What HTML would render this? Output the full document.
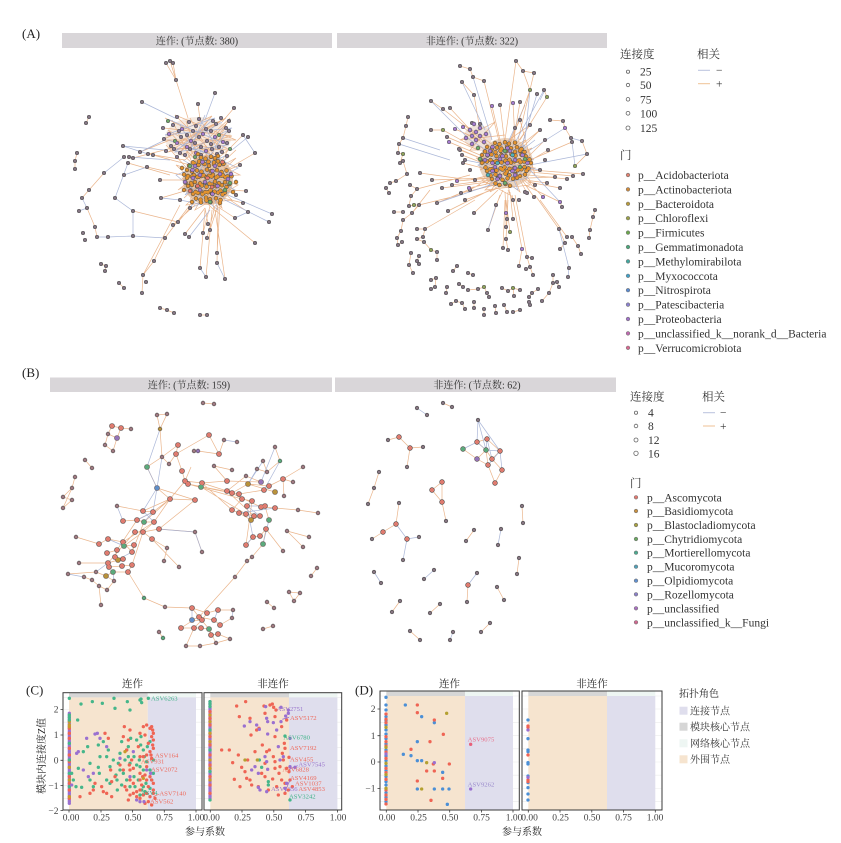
<!DOCTYPE html>
<html><head><meta charset="utf-8">
<style>
html,body{margin:0;padding:0;background:#fff;}
svg{display:block;font-family:"Liberation Serif","Noto Serif CJK SC",serif;}
.eo{fill:none;stroke:#e6a878;stroke-width:.7;opacity:.85}
.eb{fill:none;stroke:#a2afd4;stroke-width:.7;opacity:.9}
.nd{fill:none;stroke-linecap:round}
.t10{font-size:10px;fill:#333}
.lg{font-size:11.5px;fill:#333}
.tk{font-size:9.5px;fill:#444}
.lab{font-size:20px}
</style></head><body>
<svg width="841" height="843" viewBox="0 0 841 843" xmlns="http://www.w3.org/2000/svg">
<defs>
<path id="alp" d="M166 63h0M170 61h0M173 63h0M176 80h0M215 93h0M142 102h0M198 104h0M234 108h0M229 121h0M89 117h0M86 123h0M243 135h0M248 137h0M255 153h0M123 146h0M77 153h0M75 161h0M75 169h0M124 157h0M129 157h0M133 158h0M148 154h0M153 155h0M124 175h0M104 173h0M128 163h0M147 167h0M89 190h0M82 198h0M79 211h0M87 208h0M115 198h0M133 211h0M161 198h0M180 200h0M246 191h0M243 203h0M248 212h0M272 214h0M269 222h0M235 218h0M173 225h0M185 234h0M189 237h0M83 233h0M85 240h0M95 227h0M97 237h0M108 237h0M133 236h0M165 238h0M203 233h0M207 238h0M210 230h0M208 224h0M255 243h0M154 261h0M143 275h0M146 282h0M142 293h0M200 268h0M206 277h0M217 263h0M225 279h0M217 253h0M101 264h0M106 266h0M105 271h0M119 283h0M124 288h0M160 308h0M167 310h0M174 313h0M200 315h0M207 315h0M140 152h0M160 180h0M178 222h0M190 208h0M236 195h0M240 165h0"/>
<path id="alu" d="M168 121h0M177 117h0M189 122h0M199 119h0M213 121h0M221 118h0M163 128h0M173 125h0M182 129h0M196 126h0M206 129h0M216 124h0M226 128h0M169 134h0M179 131h0M187 135h0M193 131h0M203 134h0M211 131h0M219 135h0M229 131h0M164 139h0M175 141h0M181 137h0M191 141h0M199 137h0M207 141h0M215 137h0M223 142h0M171 146h0M177 143h0M187 147h0M195 143h0M201 147h0M211 144h0M219 147h0M227 143h0M166 151h0M174 149h0M180 153h0M190 149h0M196 153h0M206 151h0M212 149h0M222 152h0M230 149h0M177 157h0M185 155h0M195 157h0M201 155h0M211 157h0M217 154h0M227 156h0"/>
<path id="alc" d="M201 157.5h0m4.5 1.2h0m5.5 -2h0m4 1.5h0M193 162.5h0m6 -1h0m4.5 1.8h0m5 -1.5h0m5.5 .5h0m4 -1h0m5 1.5h0M189 165.5h0m5.5 -2h0m4 1.5h0m6 -1h0m4.5 1.8h0m5 -1.5h0m5.5 .5h0m4 -1h0M187 170h0m5 1.5h0m5 -1h0m4.5 1.2h0m5.5 -2h0m4 1.5h0m6 -1h0m4.5 1.8h0m5 -1.5h0M184 174.5h0m4 1.5h0m6 -1h0m4.5 1.8h0m5 -1.5h0m5.5 .5h0m4 -1h0m5 1.5h0m5 -1h0m4.5 1.2h0M187 178h0m5 -1.5h0m5.5 .5h0m4 -1h0m5 1.5h0m5 -1h0m4.5 1.2h0m5.5 -2h0m4 1.5h0m6 -1h0M185.5 182.5h0m5.5 .5h0m4 -1h0m5 1.5h0m5 -1h0m4.5 1.2h0m5.5 -2h0m4 1.5h0m6 -1h0m4.5 1.8h0M188 186h0m4 -1h0m5 1.5h0m5 -1h0m4.5 1.2h0m5.5 -2h0m4 1.5h0m6 -1h0m4.5 1.8h0M190.5 190.5h0m5 1.5h0m5 -1h0m4.5 1.2h0m5.5 -2h0m4 1.5h0m6 -1h0m4.5 1.8h0M193 194h0m5 -1h0m4.5 1.2h0m5.5 -2h0m4 1.5h0m6 -1h0m4.5 1.8h0M196 198.5h0m4.5 1.2h0m5.5 -2h0m4 1.5h0m6 -1h0m4.5 1.8h0M201 202.5h0m5.5 -2h0m4 1.5h0M182 168h0M236 182h0M184 190h0M233 192h0M220 203h0M192 202h0M198 154h0M218 156h0"/>
<path id="alcp" d="M192.5 170h0M212.5 171h0M200 175h0M220 174h0M193 178h0M228 179h0M205 182h0M185 182h0M217.5 186h0M200 190h0M212.5 194h0M195 166h0M215 166h0M202.5 162h0M231 174h0"/>
<path id="alcs" d="M207.5 178h0M212 187h0M197.5 186h0M222.5 162h0M190 191h0"/>
<path id="alcg" d="M225 190h0M190 166h0M210 202h0M230 183h0"/>
<path id="arp" d="M460 66h0M470 69h0M473 77h0M484 81h0M462 82h0M474 95h0M516 61h0M523 71h0M534 73h0M530 90h0M544 90h0M547 97h0M537 94h0M431 101h0M443 109h0M450 108h0M492 106h0M500 105h0M513 103h0M520 102h0M408 117h0M406 126h0M403 138h0M399 144h0M398 153h0M403 154h0M400 163h0M403 161h0M407 174h0M386 188h0M389 193h0M390 183h0M396 181h0M410 185h0M411 196h0M417 189h0M409 206h0M414 205h0M419 205h0M412 213h0M403 212h0M394 212h0M403 220h0M401 231h0M397 238h0M398 245h0M402 242h0M417 229h0M425 229h0M423 237h0M417 239h0M424 242h0M431 250h0M437 252h0M437 260h0M411 253h0M409 265h0M413 273h0M419 256h0M417 261h0M419 264h0M431 130h0M443 130h0M447 137h0M455 129h0M463 127h0M472 123h0M480 124h0M449 142h0M459 149h0M462 155h0M463 163h0M420 173h0M432 180h0M442 188h0M452 185h0M457 181h0M461 193h0M469 188h0M465 200h0M437 203h0M448 211h0M474 213h0M488 230h0M496 205h0M506 213h0M507 219h0M513 219h0M506 227h0M510 232h0M506 239h0M503 248h0M508 250h0M513 200h0M519 200h0M527 193h0M534 197h0M543 197h0M522 249h0M527 257h0M532 258h0M530 267h0M519 266h0M526 269h0M533 275h0M550 120h0M563 121h0M565 128h0M571 138h0M582 141h0M587 154h0M572 142h0M575 166h0M583 174h0M573 176h0M567 179h0M555 177h0M547 183h0M560 202h0M562 207h0M560 188h0M559 229h0M567 237h0M572 237h0M565 243h0M560 249h0M578 246h0M581 254h0M569 268h0M568 277h0M595 210h0M593 217h0M590 230h0M589 238h0M431 280h0M436 278h0M435 287h0M431 289h0M453 271h0M457 266h0M459 284h0M463 287h0M468 273h0M473 275h0M447 287h0M446 293h0M478 289h0M484 287h0M487 293h0M489 297h0M468 290h0M502 288h0M508 291h0M513 288h0M514 296h0M520 290h0M529 297h0M532 293h0M538 289h0M542 301h0M549 293h0M553 283h0M553 275h0M557 282h0M559 287h0M451 304h0M456 301h0M462 303h0M465 309h0M474 302h0M474 308h0M484 309h0M484 315h0M495 306h0M496 313h0M504 305h0M507 312h0M513 312h0M520 310h0M529 302h0M530 305h0M520 120h0M515 128h0M530 125h0M540 130h0M545 140h0M460 150h0M465 160h0M470 170h0M475 180h0M540 170h0M545 160h0M548 150h0M535 185h0M525 192h0M470 190h0"/>
<path id="arc" d="M495 143h0m4.5 1.2h0m5.5 -2h0m4 1.5h0m6 -1h0M487 147h0m5 1.5h0m5 -1h0m4.5 1.2h0m5.5 -2h0m4 1.5h0m6 -1h0m4.5 1.8h0M485 151.5h0m6 -1h0m4.5 1.8h0m5 -1.5h0m5.5 .5h0m4 -1h0m5 1.5h0m5 -1h0m4.5 1.2h0M482 155h0m5.5 .5h0m4 -1h0m5 1.5h0m5 -1h0m4.5 1.2h0m5.5 -2h0m4 1.5h0m6 -1h0m4.5 1.8h0M480.5 159.5h0m4 1.5h0m6 -1h0m4.5 1.8h0m5 -1.5h0m5.5 .5h0m4 -1h0m5 1.5h0m5 -1h0m4.5 1.2h0m5.5 -2h0M482 163h0m5 -1.5h0m5.5 .5h0m4 -1h0m5 1.5h0m5 -1h0m4.5 1.2h0m5.5 -2h0m4 1.5h0m6 -1h0m4.5 1.8h0M485.5 167.5h0m4.5 1.8h0m5 -1.5h0m5.5 .5h0m4 -1h0m5 1.5h0m5 -1h0m4.5 1.2h0m5.5 -2h0m4 1.5h0M487 171h0m5.5 -2h0m4 1.5h0m6 -1h0m4.5 1.8h0m5 -1.5h0m5.5 .5h0m4 -1h0m5 1.5h0M490.5 175.5h0m5 -1h0m4.5 1.2h0m5.5 -2h0m4 1.5h0m6 -1h0m4.5 1.8h0m5 -1.5h0M492 179h0m6 -1h0m4.5 1.8h0m5 -1.5h0m5.5 .5h0m4 -1h0M495.5 183.5h0m4 1.5h0m6 -1h0m4.5 1.8h0"/>
<path id="arcp" d="M492.5 147h0M507.5 148h0M490 151h0M510 151h0M487.5 155h0M502.5 156h0M522.5 155h0M485 160h0M500 159h0M515 160h0M492.5 163h0M507.5 163h0M527.5 163h0M495 167h0M515 168h0M492.5 171h0M512.5 171h0M500 176h0M515 175h0M497.5 179h0M476 132h0M480 136h0M476 140h0M472 136h0M480 128h0M484 142h0M472 144h0M470 130h0M486 134h0M466 138h0M474 124h0"/>
<path id="arcg" d="M505 151h0M480 159h0M520 167h0M505 183h0M525 159h0M478 148h0"/>
<path id="arct" d="M497.5 163h0M512.5 155h0M488 175h0"/>
<path id="blb" d="M143 511h0M153 512h0M137 520h0M144 522h0M154 522h0M123 521h0M143 532h0M159 529h0M135 532h0M152 539h0M108 539h0M123 542h0M124 546h0M134 545h0M132 552h0M107 553h0M117 550h0M115 557h0M123 559h0M118 560h0M108 563h0M109 567h0M122 566h0M132 565h0M128 572h0M113 572h0M106 576h0M99 544h0M170 499h0M195 500h0M202 483h0M201 487h0M227 481h0M227 491h0M232 493h0M239 494h0M248 484h0M261 482h0M269 486h0M264 490h0M275 492h0M283 479h0M242 499h0M252 501h0M247 506h0M232 510h0M239 513h0M246 514h0M254 516h0M260 516h0M251 520h0M261 507h0M265 506h0M275 508h0M269 520h0M266 529h0M260 536h0M253 537h0M263 544h0M246 545h0M192 608h0M199 617h0M207 613h0M214 620h0M218 610h0M192 620h0M194 628h0M201 628h0M209 629h0M211 635h0M218 634h0M181 628h0M220 625h0M202 620h0M157 488h0M147 467h0M185 481h0M188 484h0M182 471h0M176 454h0M178 445h0M219 454h0M209 435h0M117 438h0M112 426h0M121 428h0"/>
<path id="bls" d="M203 403h0M214 404h0M157 415h0M167 414h0M160 429h0M131 429h0M108 434h0M105 445h0M113 451h0M224 440h0M237 442h0M198 451h0M162 457h0M169 464h0M85 460h0M92 468h0M75 477h0M72 488h0M63 497h0M72 500h0M63 508h0M214 466h0M232 470h0M246 476h0M280 461h0M263 461h0M275 447h0M267 472h0M257 469h0M303 467h0M293 482h0M284 496h0M298 510h0M318 513h0M287 531h0M309 537h0M303 547h0M283 551h0M252 557h0M247 561h0M235 577h0M195 532h0M202 552h0M117 506h0M76 537h0M79 563h0M68 574h0M84 577h0M92 580h0M99 586h0M107 590h0M114 581h0M96 572h0M101 605h0M167 548h0M164 561h0M179 567h0M144 598h0M165 607h0M233 610h0M232 618h0M159 632h0M163 638h0M186 646h0M200 646h0M216 643h0M230 639h0M267 602h0M274 608h0M289 592h0M300 593h0M294 601h0M263 629h0M273 626h0M311 576h0M317 568h0M178 445h0M194 451h0M162 457h0"/>
<path id="brb" d="M477 442h0M487 439h0M500 451h0M492 459h0M488 465h0M502 470h0M477 459h0M486 450h0M463 449h0M410 448h0M399 437h0M442 482h0M432 490h0M442 502h0M396 524h0M407 539h0M383 532h0M468 585h0M495 483h0"/>
<path id="brs" d="M417 408h0M427 415h0M443 403h0M452 407h0M478 420h0M388 440h0M423 447h0M407 467h0M379 472h0M374 488h0M368 504h0M446 521h0M522 506h0M523 523h0M474 530h0M466 541h0M501 529h0M498 545h0M399 503h0M372 539h0M419 537h0M403 560h0M519 558h0M517 574h0M374 572h0M381 583h0M434 570h0M424 579h0M477 573h0M467 602h0M497 587h0M504 600h0M400 601h0M392 612h0M440 604h0M430 613h0M410 631h0M420 640h0M453 632h0M450 640h0M490 623h0M481 632h0"/>
</defs>

<!-- ===== Panel A ===== -->
<text x="22" y="38" style="font-size:13px" fill="#222">(A)</text>
<rect x="62" y="33" width="270" height="15" fill="#d9d6d9"/>
<text x="197" y="44.5" text-anchor="middle" class="t10">连作: (节点数: 380)</text>
<rect x="337" y="33" width="270" height="15" fill="#d9d6d9"/>
<text x="472" y="44.5" text-anchor="middle" class="t10">非连作: (节点数: 322)</text>

<!-- A-left network -->
<ellipse cx="198" cy="138" rx="33" ry="21" fill="#e6cbb6" opacity=".4"/>
<ellipse cx="208" cy="180" rx="25" ry="25" fill="#c99463" opacity=".5"/>
<path class="eo" d="M180 152L232 200L186 205L236 158L178 190L228 150L195 210L238 185L176 165L222 208L205 148L214 210L182 178L240 175L190 150L226 196M165 118L230 150L170 148L222 120L180 152L212 116L162 140L236 140L175 115L220 160L168 130L200 165L230 118L185 160M172 120L210 200M190 118L230 190M226 125L190 200M166 145L220 205M236 150L184 198M164 128L232 136L168 152L226 118L178 142L222 150M186 121L198 157M209 119L184 156M228 131L196 160"/>
<path class="eb" d="M183 160L235 190L190 208L228 155L176 175L218 210L200 150L238 168L185 195L225 145M170 120L228 145L175 152L215 118L165 135L232 128L190 150L205 115M180 125L225 200M228 130L186 190M168 140L214 156M222 122L176 150M200 119L218 150"/>
<path class="eo" d="M166 63L176 80L188 118M170 61L176 80M173 63L176 80M198 104L200 120M234 108L222 122M229 121L215 135M255 153L226 170M148 154L185 160M153 155L190 165M147 167L186 176M104 173L89 190L82 198M87 208L95 227L97 237M133 211L178 222M165 238L154 261L143 275L142 293M161 198L188 190M246 191L228 190M243 203L223 198M248 212L230 200M235 218L215 205M173 225L195 205M185 234L205 208M203 233L210 206M207 238L215 206M208 224L205 208M255 243L215 210M200 268L205 210M206 277L212 210M217 263L218 208M225 279L215 210M217 253L220 205M165 238L190 205M143 275L180 205M128 163L170 175M133 158L172 148M160 180L185 180M75 161L77 153M75 169L75 161M89 117L86 123M101 264L106 266L105 271M119 283L124 288M160 308L167 310L174 313M200 315L207 315M243 135L228 150M210 230L218 205M178 222L190 208M236 195L226 190M240 165L228 170M140 152L170 140"/>
<path class="eb" d="M142 102L175 118M215 93L205 120M243 135L255 153M248 137L232 150M123 146L165 150M124 157L104 173M129 157L170 160M115 198L133 211M128 163L115 198M133 211L133 236M97 237L108 237L133 236L165 238M79 211L87 208M82 198L87 208M272 214L228 195M269 222L225 200M189 237L210 210M235 218L248 212M124 175L147 167M180 200L200 204M140 152L165 140M200 268L206 277M217 263L225 279M123 146L148 154M161 198L180 200"/>
<use href="#alp" class="nd" stroke="#4a4a4a" stroke-width="4"/>
<use href="#alp" class="nd" stroke="#857684" stroke-width="2.9"/>
<use href="#alu" class="nd" stroke="#4a4a4a" stroke-width="4"/>
<use href="#alu" class="nd" stroke="#897a93" stroke-width="2.9"/>
<path class="nd" stroke="#a57bcf" stroke-width="2.9" d="M182 129h0M203 134h0M191 141h0M215 137h0M177 143h0M206 151h0M169 134h0M223 142h0M196 153h0M187 147h0"/>
<path class="nd" stroke="#6fa86a" stroke-width="2.9" d="M168 121h0M175 141h0M219 135h0M230 149h0M195 157h0"/>
<use href="#alc" class="nd" stroke="#4a4a4a" stroke-width="4.4"/>
<use href="#alc" class="nd" stroke="#e3922f" stroke-width="3.3"/>
<use href="#alcp" class="nd" stroke="#4a4a4a" stroke-width="4.4"/>
<use href="#alcp" class="nd" stroke="#a57bcf" stroke-width="3.3"/>
<use href="#alcs" class="nd" stroke="#4a4a4a" stroke-width="4.4"/>
<use href="#alcs" class="nd" stroke="#e5776a" stroke-width="3.3"/>
<use href="#alcg" class="nd" stroke="#4a4a4a" stroke-width="4.4"/>
<use href="#alcg" class="nd" stroke="#6fae6a" stroke-width="3.3"/>

<!-- A-right network -->
<ellipse cx="506" cy="163" rx="27" ry="25" fill="#c99463" opacity=".4"/>
<ellipse cx="478" cy="137" rx="14" ry="12" fill="#d9b8a6" opacity=".4"/>
<path class="eo" d="M478 145L530 185L485 190L532 148L480 170L525 140L490 192L535 168L476 158L520 192L500 140L510 195L482 180L528 160M465 125L500 150L470 150L495 122L460 140L505 135M470 130L530 180M540 130L485 185M515 128L495 185M530 125L480 160M520 120L535 175"/>
<path class="eb" d="M482 150L528 178L488 186L525 145L478 165L518 190L498 142L534 160M470 140L520 170M535 140L490 175M525 105L500 160"/>
<path class="eo" d="M460 66L470 69L473 77L484 81L495 125M462 82L474 95L480 130M516 61L523 71L534 73M523 71L530 90L510 145M544 90L547 97L520 140M492 106L500 140M500 105L505 145M513 103L515 140M520 102L512 150M431 101L443 109L470 130M450 108L475 135M431 130L443 130L470 145M447 137L478 150M455 129L480 140M463 127L485 145M449 142L480 155M459 149L485 160M462 155L488 165M463 163L490 170M420 173L470 180L490 175M432 180L485 178M442 188L488 182M452 185L490 180M457 181L492 178M461 193L495 185M469 188L496 182M465 200L497 188M437 203L480 185M448 211L490 190M474 213L498 190M488 230L500 195M496 205L503 190M506 213L505 192M507 219L508 192M513 219L510 192M506 227L506 200L510 232M506 239L508 200M503 248L505 200M508 250L506 239M522 249L512 195M527 257L515 195M532 258L527 257M530 267L527 257M519 266L522 249M533 275L530 267M513 200L508 190M527 193L520 180M534 197L522 180M543 197L525 178M550 120L563 121L565 128L571 138M582 141L587 154L575 166M572 142L530 160M583 174L532 170M573 176L530 172M567 179L528 175M555 177L528 178M547 183L525 180M560 202L525 185M562 207L560 202M560 188L528 182M559 229L535 195M567 237L540 200M565 243L559 229M560 249L565 243M578 246L572 237M581 254L578 246M408 117L406 126L403 138L399 144L398 153L403 154L400 163L403 161L407 174M386 188L389 193M390 183L396 181L407 174M410 185L417 189L411 196L409 206L414 205L419 205L412 213L403 220L401 231L397 238L398 245L402 242M403 212L394 212M417 229L425 229L423 237L417 239L424 242L431 250L437 252L437 260M411 253L409 265L413 273M419 256L417 261L419 264M417 189L470 175M419 205L460 195M412 213L430 190M425 229L475 200M431 280L436 278L435 287L431 289M453 271L457 266M459 284L463 287M468 273L473 275M447 287L446 293M478 289L484 287L487 293L489 297M468 290L478 289M502 288L508 291L513 288M514 296L513 288L520 290M529 297L532 293L538 289M542 301L549 293L553 283L553 275M557 282L559 287M451 304L456 301L462 303L465 309M474 302L474 308M484 309L484 315M495 306L496 313M504 305L507 312M513 312L520 310M529 302L530 305M589 238L590 230L593 217L595 210M520 120L505 150M530 125L512 150M545 140L525 160M548 150L528 162M460 150L485 160M470 190L490 178M535 185L520 175M534 73L518 140M516 61L505 140M484 81L500 145M540 130L515 150"/>
<path class="eb" d="M462 82L485 130M431 101L470 140M530 90L525 140M537 94L522 145M565 128L530 150M571 138L582 141M572 142L575 166M587 154L530 165M560 202L530 170M569 268L568 277M559 229L569 268M403 138L440 150M399 144L450 160M437 203L490 185M488 230L496 205M545 90L540 100M540 170L515 165M465 160L490 165M544 90L512 148M473 77L492 140"/>
<use href="#arp" class="nd" stroke="#4a4a4a" stroke-width="4"/>
<use href="#arp" class="nd" stroke="#857684" stroke-width="2.9"/>
<path class="nd" stroke="#8fa45a" stroke-width="2.9" d="M530 90h0M547 97h0M443 130h0M403 154h0M414 205h0M431 250h0M510 232h0M575 166h0M513 288h0M484 287h0"/>
<path class="nd" stroke="#a57bcf" stroke-width="2.9" d="M492 106h0M513 103h0M455 129h0M463 127h0M449 142h0M457 181h0M469 188h0M506 213h0M522 249h0M565 128h0M560 202h0M543 197h0"/>
<use href="#arc" class="nd" stroke="#4a4a4a" stroke-width="4.4"/>
<use href="#arc" class="nd" stroke="#e3922f" stroke-width="3.3"/>
<use href="#arcp" class="nd" stroke="#4a4a4a" stroke-width="4.4"/>
<use href="#arcp" class="nd" stroke="#a57bcf" stroke-width="3.3"/>
<use href="#arcg" class="nd" stroke="#4a4a4a" stroke-width="4.4"/>
<use href="#arcg" class="nd" stroke="#6fae6a" stroke-width="3.3"/>
<use href="#arct" class="nd" stroke="#4a4a4a" stroke-width="4.4"/>
<use href="#arct" class="nd" stroke="#4fb0b8" stroke-width="3.3"/>

<!-- Legend A -->
<text x="620" y="58" class="lg">连接度</text>
<g fill="#fff" stroke="#666" stroke-width=".8">
<circle cx="628" cy="71.7" r="1.6"/><circle cx="628" cy="85" r="1.7"/><circle cx="628" cy="99.3" r="1.8"/><circle cx="628" cy="113.3" r="1.9"/><circle cx="628" cy="128" r="2"/>
</g>
<text x="640" y="75.7" class="lg">25</text>
<text x="640" y="89" class="lg">50</text>
<text x="640" y="103.3" class="lg">75</text>
<text x="640" y="117.3" class="lg">100</text>
<text x="640" y="132" class="lg">125</text>
<text x="697" y="58" class="lg">相关</text>
<line x1="698" y1="70.3" x2="710" y2="70.3" stroke="#b9c1de" stroke-width="1"/>
<line x1="698" y1="83.7" x2="710" y2="83.7" stroke="#efc295" stroke-width="1"/>
<text x="716" y="74" class="lg">−</text>
<text x="716" y="87.5" class="lg">+</text>
<text x="620" y="159" class="lg">门</text>
<g stroke="#777" stroke-width=".6">
<circle cx="628" cy="175" r="1.8" fill="#e0806f"/>
<circle cx="628" cy="189.4" r="1.8" fill="#d08a3a"/>
<circle cx="628" cy="203.8" r="1.8" fill="#b89a3a"/>
<circle cx="628" cy="218.2" r="1.8" fill="#9aa048"/>
<circle cx="628" cy="232.6" r="1.8" fill="#6aa84a"/>
<circle cx="628" cy="247" r="1.8" fill="#4aa87a"/>
<circle cx="628" cy="261.4" r="1.8" fill="#40a8a0"/>
<circle cx="628" cy="275.8" r="1.8" fill="#40a0c8"/>
<circle cx="628" cy="290.2" r="1.8" fill="#5a8ad0"/>
<circle cx="628" cy="304.6" r="1.8" fill="#8a80d0"/>
<circle cx="628" cy="319" r="1.8" fill="#a070c8"/>
<circle cx="628" cy="333.4" r="1.8" fill="#c068b0"/>
<circle cx="628" cy="347.8" r="1.8" fill="#d86890"/>
</g>
<g class="lg">
<text x="638" y="179">p__Acidobacteriota</text>
<text x="638" y="193.4">p__Actinobacteriota</text>
<text x="638" y="207.8">p__Bacteroidota</text>
<text x="638" y="222.2">p__Chloroflexi</text>
<text x="638" y="236.6">p__Firmicutes</text>
<text x="638" y="251">p__Gemmatimonadota</text>
<text x="638" y="265.4">p__Methylomirabilota</text>
<text x="638" y="279.8">p__Myxococcota</text>
<text x="638" y="294.2">p__Nitrospirota</text>
<text x="638" y="308.6">p__Patescibacteria</text>
<text x="638" y="323">p__Proteobacteria</text>
<text x="638" y="337.4">p__unclassified_k__norank_d__Bacteria</text>
<text x="638" y="351.8">p__Verrucomicrobiota</text>
</g>

<!-- ===== Panel B ===== -->
<text x="22" y="377" style="font-size:13px" fill="#222">(B)</text>
<rect x="50" y="377.5" width="282" height="14.5" fill="#d9d6d9"/>
<text x="189" y="388.3" text-anchor="middle" class="t10">连作: (节点数: 159)</text>
<rect x="335" y="377.5" width="281" height="14.5" fill="#d9d6d9"/>
<text x="477" y="388.3" text-anchor="middle" class="t10">非连作: (节点数: 62)</text>

<path class="eo" d="M203 403L214 404M157 415L167 414L160 429L157 415M160 429L162 457M112 426L121 428L131 429M112 426L108 434L117 438L121 428M108 434L105 445L113 451L117 438M85 460L92 468M75 477L72 488L63 497L72 500L63 508L72 488M209 435L219 454L224 440M178 445L176 454L169 464L162 457M198 451L219 454M162 457L147 467L157 488M176 454L182 471L185 481L170 499M191 467L185 481M214 466L227 481L202 483L185 481M214 466L232 470M227 481L261 482M227 491L246 476L261 482M232 493L248 484L269 486M239 494L264 490M202 483L227 491M201 487L232 493M188 484L239 494M170 499L195 500M170 499L157 488M170 499L143 511M170 499L153 512M170 499L154 522M170 499L144 522M195 500L157 488M283 479L293 482M269 486L283 479L284 496M303 467L283 479M275 447L280 461L267 472M263 461L267 472L257 469M261 507L275 508L298 510L318 513M265 506L269 520M247 506L252 501L242 499L232 510L239 513L246 514L254 516L260 516L251 520L239 513M232 510L202 483M246 514L201 487M254 516L227 491M242 499L188 484M266 529L260 536L253 537L246 545M263 544L266 529M287 531L309 537M287 531L303 547M283 551L266 529M252 557L247 561L235 577L199 617M252 557L263 544M195 532L202 552M195 532L159 529M117 506L143 511L153 512L137 520L144 522L154 522L143 532L159 529M123 521L137 520M135 532L143 532L152 539L167 548L164 561M152 539L179 567M76 537L99 544L108 539L123 542L124 546L134 545L132 552L123 542M107 553L117 550L115 557L123 559L118 560L108 563M79 563L108 563L109 567L122 566L132 565L128 572L113 572L106 576L96 572L68 574M84 577L92 580L99 586L107 590L114 581L106 576M101 605L99 586M124 546L143 532M132 552L144 522M117 550L137 520M108 563L135 532M123 542L154 522M132 565L143 532M128 572L144 598L165 607L192 608L207 613L218 610L233 610M192 620L199 617L214 620L220 625L232 618M181 628L194 628L201 628L209 629L211 635L218 634M192 608L199 617L209 629M202 620L192 621L181 628M159 632L163 638M186 646L200 646L216 643L230 639M209 629L216 643M207 613L202 620L194 628L186 646M218 634L230 639M267 602L274 608M289 592L300 593L294 601L289 592M263 629L273 626M311 576L317 568M176 454L209 435M178 445L162 457M159 529L195 500M261 507L227 491M246 545L252 501M248 484L275 492"/>
<path class="eb" d="M162 457L157 488L147 467M157 488L143 511M157 488L153 512L144 522M143 511L154 522M137 520L153 512M237 442L224 440M261 482L275 447M263 461L248 484M280 461L264 490M257 469L248 484M246 506L265 506L261 507M247 506L260 516M202 552L195 532L157 529M246 545L253 537L247 506M68 574L84 577M96 572L108 563M113 572L114 581M192 608L192 620M214 620L218 610M232 618L233 610M117 506L123 521M147 467L160 429M124 546L108 539M132 552L117 560M263 544L269 520M239 513L275 508"/>
<use href="#bls" class="nd" stroke="#4a4a4a" stroke-width="4.4"/>
<use href="#bls" class="nd" stroke="#a07a82" stroke-width="3.3"/>
<use href="#blb" class="nd" stroke="#4a4a4a" stroke-width="5.6"/>
<use href="#blb" class="nd" stroke="#df7b6f" stroke-width="4.5"/>
<path class="nd" stroke="#5aaa7c" stroke-width="4.5" d="M147 467h0M144 522h0M124 546h0M113 572h0M201 487h0M269 520h0M263 544h0M209 629h0"/>
<path class="nd" stroke="#5aaa7c" stroke-width="3.3" d="M280 461h0M163 638h0M144 598h0"/>
<path class="nd" stroke="#5e8ec8" stroke-width="4.5" d="M157 488h0M192 620h0"/>
<path class="nd" stroke="#b8923a" stroke-width="4.5" d="M118 560h0M106 576h0M248 484h0M275 492h0M251 520h0"/>
<path class="nd" stroke="#b8923a" stroke-width="3.3" d="M160 429h0"/>
<path class="nd" stroke="#9474b8" stroke-width="4.5" d="M117 438h0M261 482h0"/>
<path class="nd" stroke="#9474b8" stroke-width="3.3" d="M198 451h0"/>

<path class="eo" d="M443 403L452 407M388 440L399 437L410 448L423 447M410 448L407 467M379 472L374 488L368 504M442 482L432 490L442 502L446 521M442 482L442 502M474 530L466 541M399 503L396 524L383 532L372 539M519 558L517 574M400 601L392 612M440 604L430 613M467 602L468 585M497 587L504 600M410 631L420 640M490 623L481 632M522 506L523 523M463 449L477 459L488 465L495 483L502 470L492 459L486 450M477 442L487 439L500 451L492 459M477 442L486 450L488 465M477 459L486 450"/>
<path class="eb" d="M417 408L427 415M478 420L477 442M478 420L486 450M463 449L477 442L486 450L500 451L502 470M487 439L492 459M500 451L488 465M396 524L407 539L419 537M407 539L403 560M501 529L498 545M374 572L381 583M434 570L424 579M477 573L468 585M453 632L450 640M487 439L486 450M478 420L500 451"/>
<use href="#brs" class="nd" stroke="#4a4a4a" stroke-width="4.2"/>
<use href="#brs" class="nd" stroke="#877682" stroke-width="3.1"/>
<use href="#brb" class="nd" stroke="#4a4a4a" stroke-width="5.4"/>
<use href="#brb" class="nd" stroke="#df7b6f" stroke-width="4.3"/>
<path class="nd" stroke="#5aaa7c" stroke-width="4.3" d="M486 450h0M463 449h0"/>
<path class="nd" stroke="#9474b8" stroke-width="4.3" d="M477 459h0"/>

<!-- Legend B -->
<text x="630" y="400.5" class="lg">连接度</text>
<g fill="#fff" stroke="#666" stroke-width=".8">
<circle cx="636" cy="412.7" r="1.6"/><circle cx="636" cy="426" r="1.8"/><circle cx="636" cy="440" r="2"/><circle cx="636" cy="453.3" r="2.2"/>
</g>
<text x="648" y="416.7" class="lg">4</text>
<text x="648" y="430" class="lg">8</text>
<text x="648" y="444" class="lg">12</text>
<text x="648" y="457.3" class="lg">16</text>
<text x="702" y="400.5" class="lg">相关</text>
<line x1="703" y1="412.7" x2="715" y2="412.7" stroke="#b9c1de" stroke-width="1"/>
<line x1="703" y1="426" x2="715" y2="426" stroke="#efc295" stroke-width="1"/>
<text x="720" y="416.5" class="lg">−</text>
<text x="720" y="430" class="lg">+</text>
<text x="630" y="487" class="lg">门</text>
<g stroke="#777" stroke-width=".6">
<circle cx="636" cy="497.3" r="1.8" fill="#e07870"/>
<circle cx="636" cy="511" r="1.8" fill="#c89040"/>
<circle cx="636" cy="525" r="1.8" fill="#a8a040"/>
<circle cx="636" cy="539" r="1.8" fill="#6aa860"/>
<circle cx="636" cy="552.7" r="1.8" fill="#4aaa90"/>
<circle cx="636" cy="566.7" r="1.8" fill="#50a0b8"/>
<circle cx="636" cy="580.7" r="1.8" fill="#6090d0"/>
<circle cx="636" cy="594.3" r="1.8" fill="#8a80c8"/>
<circle cx="636" cy="608.3" r="1.8" fill="#a870c0"/>
<circle cx="636" cy="622.3" r="1.8" fill="#d06890"/>
</g>
<g class="lg">
<text x="647" y="501.3">p__Ascomycota</text>
<text x="647" y="515">p__Basidiomycota</text>
<text x="647" y="529">p__Blastocladiomycota</text>
<text x="647" y="543">p__Chytridiomycota</text>
<text x="647" y="556.7">p__Mortierellomycota</text>
<text x="647" y="570.7">p__Mucoromycota</text>
<text x="647" y="584.7">p__Olpidiomycota</text>
<text x="647" y="598.3">p__Rozellomycota</text>
<text x="647" y="612.3">p__unclassified</text>
<text x="647" y="626.3">p__unclassified_k__Fungi</text>
</g>

<!-- ===== Panel C ===== -->
<text x="26" y="694.5" style="font-size:13px" fill="#222">(C)</text>
<text x="132.5" y="687" text-anchor="middle" style="font-size:10.5px" fill="#222">连作</text>
<text x="273" y="687" text-anchor="middle" style="font-size:10.5px" fill="#222">非连作</text>
<text transform="translate(45 756) rotate(-90)" text-anchor="middle" style="font-size:10px" fill="#222">模块内连接度Z值</text>
<text x="205" y="835" text-anchor="middle" style="font-size:10px" fill="#222">参与系数</text>

<g stroke="#ebebeb" stroke-width=".6">
<path d="M63 697.3H202M63 709.5H202M63 722.2H202M63 735H202M63 747.6H202M63 760.3H202M63 773H202M63 785.6H202M63 798.3H202"/>
<path d="M204 697.3H341.7M204 709.5H341.7M204 722.2H341.7M204 735H341.7M204 747.6H341.7M204 760.3H341.7M204 773H341.7M204 785.6H341.7M204 798.3H341.7"/>
</g>
<rect x="69" y="697.3" width="78.8" height="112.7" fill="#f6e4cf"/>
<rect x="147.8" y="697.3" width="48.2" height="112.7" fill="#dfdeed"/>
<rect x="69" y="692.7" width="78.8" height="4.6" fill="#d6d6d6"/>
<rect x="147.8" y="692.7" width="48.2" height="4.6" fill="#eef6f3"/>
<rect x="210.3" y="697.3" width="78.7" height="112.7" fill="#f6e4cf"/>
<rect x="289" y="697.3" width="48.4" height="112.7" fill="#dfdeed"/>
<rect x="210.3" y="692.7" width="78.7" height="4.6" fill="#d6d6d6"/>
<rect x="289" y="692.7" width="48.4" height="4.6" fill="#eef6f3"/>

<g transform="translate(40 680) scale(.33333)">
<path class="nd" stroke="#9a70d0" stroke-width="10" d="M88 100h0m0 5h0m0 5h0m0 5h0m0 5h0m0 5h0m0 5h0m0 5h0m0 5h0m0 5h0m0 5h0m0 5h0m0 5h0m0 5h0m0 5h0m0 5h0m0 5h0m0 5h0m0 5h0m0 5h0m0 5h0m0 5h0m0 5h0m0 5h0m0 5h0m0 5h0m0 5h0m0 5h0m0 5h0m0 5h0m0 5h0m0 5h0m0 5h0m0 5h0m0 5h0m0 5h0m0 5h0m0 5h0m0 5h0m0 5h0m0 5h0m0 5h0m0 5h0m0 5h0m0 5h0m0 5h0m0 5h0m0 5h0m0 5h0m0 5h0m0 5h0m0 5h0m0 5h0m0 5h0m0 5h0"/>
<path class="nd" stroke="#ef6454" stroke-width="10" d="M88 145h0M88 160h0M88 175h0M88 205h0M88 225h0M88 245h0M88 290h0M88 310h0M88 330h0M88 355h0"/>
<path class="nd" stroke="#c99a2a" stroke-width="10" d="M88 125h0M88 135h0M88 140h0M88 262h0M88 300h0M88 350h0"/>
<path class="nd" stroke="#45b68a" stroke-width="10" d="M88 55h0M88 105h0M88 112h0M88 120h0M88 190h0M88 240h0M88 280h0M88 320h0"/>
<path class="nd" stroke="#45b68a" stroke-width="10" d="M123 72h0M157 65h0M187 70h0M222 55h0M225 85h0M262 65h0M270 90h0M300 60h0M303 57h0M305 68h0M303 170h0M113 120h0M143 200h0M130 215h0M175 195h0M190 185h0M115 265h0M175 262h0M178 280h0M210 260h0M235 250h0M245 185h0M260 210h0M265 230h0M250 280h0M228 285h0M231 300h0M265 200h0M282 230h0M298 240h0M300 260h0M270 250h0M272 175h0M290 180h0M302 195h0M310 210h0M313 230h0M320 245h0M282 290h0M295 300h0M260 300h0M245 315h0M210 310h0M200 300h0M160 320h0M150 300h0M100 300h0M108 320h0M125 322h0M232 330h0M285 320h0M305 330h0M310 320h0M330 325h0M318 310h0M340 280h0M335 300h0M322 200h0M330 185h0M340 240h0M330 270h0M255 240h0M240 220h0M200 230h0M95 280h0M310 270h0M290 255h0M325 55h0M240 270h0M220 240h0M205 210h0M180 230h0M150 250h0M270 320h0M300 345h0M315 335h0"/>
<path class="nd" stroke="#ef6454" stroke-width="10" d="M253 140h0M270 150h0M300 160h0M310 140h0M315 165h0M320 135h0M330 145h0M335 140h0M338 150h0M340 160h0M335 170h0M340 180h0M325 190h0M338 195h0M340 205h0M330 215h0M333 225h0M335 235h0M320 225h0M310 230h0M295 200h0M300 230h0M275 240h0M268 255h0M280 265h0M270 270h0M300 280h0M315 285h0M320 260h0M330 290h0M335 300h0M340 310h0M320 300h0M305 315h0M300 330h0M290 335h0M280 340h0M270 345h0M265 360h0M290 350h0M300 355h0M310 345h0M320 340h0M330 350h0M340 340h0M315 370h0M325 365h0M335 375h0M200 340h0M215 350h0M185 320h0M190 335h0M165 310h0M120 350h0M150 340h0M160 330h0M270 300h0M280 310h0M255 320h0M260 330h0M250 270h0M240 255h0M225 290h0M215 305h0M212 270h0M205 175h0M195 160h0M250 170h0M265 180h0M260 210h0M300 300h0M308 290h0M325 320h0M340 330h0M345 355h0"/>
<path class="nd" stroke="#9a70d0" stroke-width="10" d="M140 175h0M165 162h0M172 160h0M180 175h0M200 200h0M115 215h0M110 220h0M130 270h0M145 290h0M160 280h0M95 315h0M240 235h0M280 215h0M320 270h0M332 280h0M270 290h0M290 360h0M300 365h0M312 365h0"/>
<path class="nd" stroke="#c99a2a" stroke-width="10" d="M255 215h0M310 295h0"/>
<g class="lab">
<text x="333" y="62" fill="#3fb387">ASV6263</text>
<text x="345" y="232" fill="#ee6a5c">ASV164</text>
<text x="303" y="250" fill="#ee6a5c">ASV931</text>
<text x="333" y="275" fill="#ee6a5c">ASV2072</text>
<text x="303" y="345" fill="#3fb387">ASV4</text>
<text x="358" y="347" fill="#ee6a5c">ASV7140</text>
<text x="330" y="370" fill="#ee6a5c">ASV562</text>
</g>
<path d="M340 350L358 342" stroke="#ee6a5c" stroke-width="2" fill="none"/>
</g>

<g transform="translate(195 680) scale(.33333)">
<path class="nd" stroke="#9a70d0" stroke-width="10" d="M45 65h0m0 5h0m0 5h0m0 5h0m0 5h0m0 5h0m0 5h0m0 5h0m0 5h0m0 5h0m0 5h0m0 5h0m0 5h0m0 5h0m0 5h0m0 5h0m0 5h0m0 5h0m0 5h0m0 5h0m0 5h0m0 5h0m0 5h0m0 5h0m0 5h0m0 5h0m0 5h0m0 5h0m0 5h0m0 5h0m0 5h0m0 5h0m0 5h0m0 5h0m0 5h0m0 5h0m0 5h0m0 5h0m0 5h0m0 5h0m0 5h0m0 5h0m0 5h0m0 5h0m0 5h0m0 5h0m0 5h0m0 5h0m0 5h0m0 5h0m0 5h0m0 5h0m0 5h0m0 5h0m0 5h0m0 5h0m0 5h0m0 5h0m0 5h0"/>
<path class="nd" stroke="#45b68a" stroke-width="10" d="M45 65h0M45 72h0M45 80h0M45 150h0M45 210h0M45 275h0M45 360h0"/>
<path class="nd" stroke="#ef6454" stroke-width="10" d="M45 95h0M45 115h0M45 135h0M45 170h0M45 195h0M45 225h0M45 255h0M45 290h0M45 315h0M45 340h0"/>
<path class="nd" stroke="#c99a2a" stroke-width="10" d="M45 105h0M45 125h0M45 160h0M45 185h0M45 240h0M45 265h0M45 300h0"/>
<path class="nd" stroke="#ef6454" stroke-width="10" d="M125 78h0M152 65h0M207 78h0M225 75h0M232 72h0M236 82h0M243 90h0M210 100h0M133 110h0M240 110h0M165 115h0M275 120h0M260 140h0M185 150h0M192 145h0M168 165h0M240 170h0M268 190h0M202 195h0M223 210h0M270 205h0M262 220h0M80 210h0M103 210h0M113 248h0M130 225h0M180 215h0M215 215h0M235 230h0M265 240h0M282 232h0M240 245h0M210 250h0M255 260h0M275 265h0M282 275h0M158 240h0M140 262h0M118 298h0M150 275h0M155 295h0M165 300h0M200 280h0M210 290h0M240 265h0M252 280h0M260 300h0M270 310h0M285 300h0M233 297h0M245 320h0M220 330h0M190 320h0M170 315h0M135 320h0M250 345h0M270 340h0M280 330h0M292 320h0"/>
<path class="nd" stroke="#9a70d0" stroke-width="10" d="M212 80h0M215 115h0M218 125h0M235 128h0M258 82h0M280 90h0M272 108h0M280 100h0M185 135h0M193 148h0M148 138h0M245 150h0M285 175h0M218 162h0M250 200h0M210 230h0M215 245h0M218 268h0M180 260h0M170 270h0M190 280h0M190 322h0M195 330h0M215 335h0M270 325h0M275 310h0M285 260h0M300 262h0M265 230h0M255 240h0M258 125h0M165 125h0"/>
<path class="nd" stroke="#45b68a" stroke-width="10" d="M270 168h0M193 240h0M200 262h0M220 305h0M220 315h0M285 360h0"/>
<path class="nd" stroke="#b4a030" stroke-width="10" d="M150 240h0M187 240h0"/>
<path d="M282 268L308 257M270 335L285 300M262 118L282 112" stroke="#9a70d0" stroke-width="2.5" fill="none"/>
<g class="lab">
<text x="245" y="93" fill="#9a76cc">ASV2751</text>
<text x="285" y="120" fill="#ee6a5c">ASV5172</text>
<text x="265" y="178" fill="#3fb387">ASV6780</text>
<text x="285" y="210" fill="#ee6a5c">ASV7192</text>
<text x="285" y="245" fill="#ee6a5c">ASV455</text>
<text x="310" y="260" fill="#9a76cc">ASV7545</text>
<text x="262" y="275" fill="#ee6a5c">ASV6828</text>
<text x="285" y="300" fill="#ee6a5c">ASV4169</text>
<text x="300" y="317" fill="#ee6a5c">ASV1037</text>
<text x="228" y="333" fill="#9a76cc">ASV1356</text>
<text x="310" y="333" fill="#ee6a5c">ASV4853</text>
<text x="282" y="355" fill="#3fb387">ASV3242</text>
</g>
</g>

<rect x="63" y="692.7" width="139" height="117.3" fill="none" stroke="#3a3a3a" stroke-width="1"/>
<rect x="204" y="692.7" width="137.7" height="117.3" fill="none" stroke="#3a3a3a" stroke-width="1"/>
<path d="M60.5 709.5H63M60.5 735H63M60.5 760.3H63M60.5 785.6H63M60.5 810.5H63M69 810V812.5M101 810V812.5M132.5 810V812.5M164.3 810V812.5M196 810V812.5M210.3 810V812.5M242 810V812.5M273.8 810V812.5M305.6 810V812.5M337.4 810V812.5" stroke="#3a3a3a" stroke-width=".8"/>
<g class="tk" text-anchor="end">
<text x="58.5" y="712.7">2</text><text x="58.5" y="738.2">1</text><text x="58.5" y="763.5">0</text><text x="58.5" y="788.8">−1</text><text x="58.5" y="814">−2</text>
</g>
<g class="tk" text-anchor="middle">
<text x="71" y="820.5">0.00</text><text x="101.5" y="820.5">0.25</text><text x="133" y="820.5">0.50</text><text x="164.5" y="820.5">0.75</text><text x="196" y="820.5">1.00</text>
<text x="211.5" y="820.5">0.00</text><text x="242.5" y="820.5">0.25</text><text x="274" y="820.5">0.50</text><text x="306" y="820.5">0.75</text><text x="338" y="820.5">1.00</text>
</g>

<!-- ===== Panel D ===== -->
<text x="355" y="694.5" style="font-size:13px" fill="#222">(D)</text>
<text x="449.5" y="687" text-anchor="middle" style="font-size:10.5px" fill="#222">连作</text>
<text x="592" y="687" text-anchor="middle" style="font-size:10.5px" fill="#222">非连作</text>
<text x="522" y="835" text-anchor="middle" style="font-size:10px" fill="#222">参与系数</text>
<g stroke="#ebebeb" stroke-width=".6">
<path d="M380 696H519.3M380 709H519.3M380 722.3H519.3M380 735.7H519.3M380 748.8H519.3M380 762H519.3M380 775.2H519.3M380 788.5H519.3M380 801.7H519.3"/>
<path d="M522 696H662M522 709H662M522 722.3H662M522 735.7H662M522 748.8H662M522 762H662M522 775.2H662M522 788.5H662M522 801.7H662"/>
</g>
<rect x="386.3" y="696" width="78.7" height="114" fill="#f6e4cf"/>
<rect x="465" y="696" width="48" height="114" fill="#dfdeed"/>
<rect x="386.3" y="691" width="78.7" height="5" fill="#d6d6d6"/>
<rect x="465" y="691" width="48" height="5" fill="#eef6f3"/>
<rect x="528.3" y="696" width="78.7" height="114" fill="#f6e4cf"/>
<rect x="607" y="696" width="48.3" height="114" fill="#dfdeed"/>
<rect x="528.3" y="691" width="78.7" height="5" fill="#d6d6d6"/>
<rect x="607" y="691" width="48.3" height="5" fill="#eef6f3"/>

<g transform="translate(330 640) scale(.33333)">
<path class="nd" stroke="#4b8fd6" stroke-width="10" d="M168 172h0M168 195h0M168 210h0M168 230h0M168 242h0M168 255h0M168 270h0M168 282h0M168 296h0M168 312h0M168 330h0M168 348h0M168 362h0M168 378h0M168 392h0M168 410h0M168 425h0M168 435h0M168 458h0M168 472h0M168 485h0"/>
<path class="nd" stroke="#ef6454" stroke-width="10" d="M168 222h0M168 238h0M168 248h0M168 290h0M168 305h0M168 318h0M168 336h0M168 355h0M168 385h0M168 398h0M168 418h0M168 450h0M168 465h0M168 478h0M168 492h0"/>
<path class="nd" stroke="#b4a030" stroke-width="10" d="M168 262h0M168 322h0M168 370h0M168 404h0M168 445h0"/>
<path class="nd" stroke="#9a70d0" stroke-width="10" d="M168 342h0"/>
<path class="nd" stroke="#4b8fd6" stroke-width="10" d="M226 195h0M275 230h0M313 248h0M262 305h0M220 343h0M243 347h0M262 362h0M275 362h0M338 397h0M262 447h0M313 447h0M338 447h0M357 447h0M352 493h0"/>
<path class="nd" stroke="#ef6454" stroke-width="10" d="M262 195h0M262 218h0M313 240h0M340 283h0M300 305h0M243 328h0M310 372h0M358 372h0M290 393h0M313 393h0M338 415h0M262 423h0M303 481h0"/>
<path class="nd" stroke="#e8607a" stroke-width="10" d="M422 313h0"/>
<path class="nd" stroke="#b4a030" stroke-width="10" d="M350 220h0M290 368h0M275 447h0"/>
<path class="nd" stroke="#9a70d0" stroke-width="10" d="M313 368h0M422 447h0"/>
<g class="lab">
<text x="413" y="305" fill="#e8708a">ASV9075</text>
<text x="413" y="440" fill="#9a8acc">ASV9262</text>
</g>
<path class="nd" stroke="#4b8fd6" stroke-width="10" d="M594 240h0M594 296h0M594 330h0M594 335h0M594 368h0M594 372h0M594 408h0M594 428h0M594 443h0M594 462h0M594 480h0"/>
<path class="nd" stroke="#ef6454" stroke-width="10" d="M594 258h0M594 262h0M594 345h0M594 420h0M594 425h0"/>
<path class="nd" stroke="#9a70d0" stroke-width="10" d="M594 270h0M594 412h0"/>
</g>

<rect x="380" y="691" width="139.3" height="119" fill="none" stroke="#3a3a3a" stroke-width="1"/>
<rect x="522" y="691" width="140" height="119" fill="none" stroke="#3a3a3a" stroke-width="1"/>
<path d="M377.5 709H380M377.5 735.7H380M377.5 762H380M377.5 788.5H380M386.3 810V812.5M418 810V812.5M449.7 810V812.5M481.4 810V812.5M513 810V812.5M528.3 810V812.5M560 810V812.5M591.8 810V812.5M623.5 810V812.5M655.3 810V812.5" stroke="#3a3a3a" stroke-width=".8"/>
<g class="tk" text-anchor="end">
<text x="375.5" y="712.2">2</text><text x="375.5" y="738.9">1</text><text x="375.5" y="765.2">0</text><text x="375.5" y="791.7">−1</text>
</g>
<g class="tk" text-anchor="middle">
<text x="387" y="820.5">0.00</text><text x="418.5" y="820.5">0.25</text><text x="450" y="820.5">0.50</text><text x="481.5" y="820.5">0.75</text><text x="514" y="820.5">1.00</text>
<text x="529.5" y="820.5">0.00</text><text x="560.5" y="820.5">0.25</text><text x="592" y="820.5">0.50</text><text x="623.5" y="820.5">0.75</text><text x="655" y="820.5">1.00</text>
</g>

<text x="679" y="697" style="font-size:10px" fill="#222">拓扑角色</text>
<rect x="679.5" y="706.7" width="8" height="8" fill="#dfdeed"/>
<rect x="679.5" y="722.7" width="8" height="8" fill="#d6d6d6"/>
<rect x="679.5" y="739.3" width="8" height="8" fill="#eef6f3"/>
<rect x="679.5" y="755.3" width="8" height="8" fill="#f6e4cf"/>
<g style="font-size:10px" fill="#333">
<text x="690" y="714.3">连接节点</text>
<text x="690" y="730.3">模块核心节点</text>
<text x="690" y="746.9">网络核心节点</text>
<text x="690" y="762.9">外围节点</text>
</g>
</svg>
</body></html>
